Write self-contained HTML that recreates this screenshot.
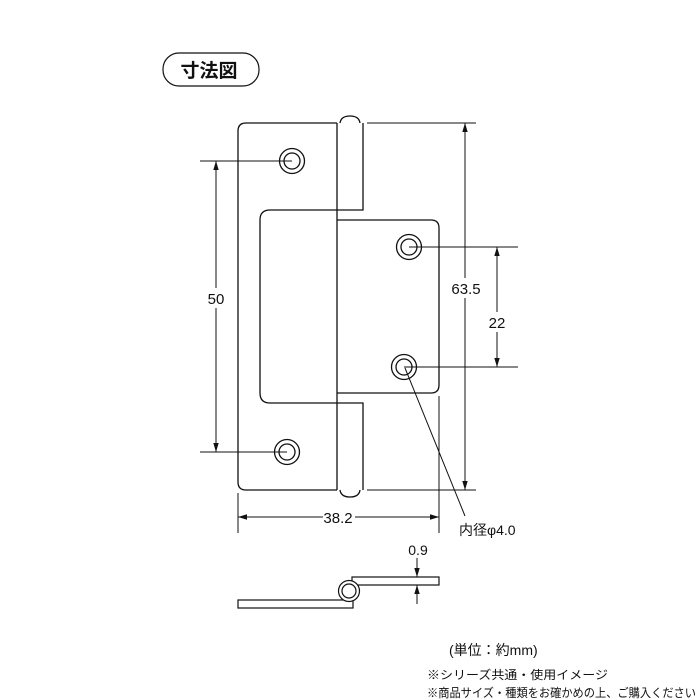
<!DOCTYPE html>
<html><head><meta charset="utf-8"><style>
html,body{margin:0;padding:0;background:#fff;}
svg{display:block;}
text{font-family:"Liberation Sans","Noto Sans CJK JP",sans-serif;fill:#111;}
</style></head><body>
<svg width="700" height="700" viewBox="0 0 700 700" xmlns="http://www.w3.org/2000/svg">
<defs>
<marker id="a" viewBox="0 0 10 10" refX="10" refY="5" markerWidth="9" markerHeight="9" orient="auto-start-reverse" markerUnits="userSpaceOnUse"><path d="M0,2 L10,5 L0,8 z" fill="#111"/></marker>
</defs>
<g fill="none" stroke="#111" stroke-width="1.3">
<rect x="163" y="53" width="96" height="33" rx="16" stroke-width="1.2"/>
<path d="M337,123 H246 Q238,123 238,131 V482 Q238,490 246,490 H337"/>
<path d="M337,210 H270 Q260,210 260,220 V393 Q260,403 270,403 H337"/>
<path d="M337,123 V490"/>
<path d="M363,123 V210 H337 M337,220 H363"/>
<path d="M363,393 H337 M337,403 H363 V490"/>
<path d="M340,123 Q341,116 350,116 Q359,116 360,123"/>
<path d="M340,490 Q341,497 350,497 Q359,497 360,490"/>
<path d="M363,220 H431 Q439,220 439,228 V385 Q439,393 431,393 H363"/>
<circle cx="292" cy="161" r="12.5"/><circle cx="292" cy="161" r="8"/>
<circle cx="287" cy="452" r="12.5"/><circle cx="287" cy="452" r="8"/>
<circle cx="409" cy="247" r="12.5"/><circle cx="409" cy="247" r="8"/>
<circle cx="404" cy="367" r="12.5"/><circle cx="404" cy="367" r="8"/>
</g>
<g fill="none" stroke="#111" stroke-width="1">
<line x1="200" y1="161" x2="292" y2="161"/>
<line x1="200" y1="452" x2="287" y2="452"/>
<line x1="216" y1="161" x2="216" y2="452" marker-start="url(#a)" marker-end="url(#a)"/>
<line x1="367" y1="123" x2="476" y2="123"/>
<line x1="367" y1="490" x2="476" y2="490"/>
<line x1="465" y1="123" x2="465" y2="490" marker-start="url(#a)" marker-end="url(#a)"/>
<line x1="409" y1="247" x2="518" y2="247"/>
<line x1="404" y1="367" x2="518" y2="367"/>
<line x1="497" y1="247" x2="497" y2="367" marker-start="url(#a)" marker-end="url(#a)"/>
<line x1="238" y1="493" x2="238" y2="533"/>
<line x1="439" y1="396" x2="439" y2="533"/>
<line x1="238" y1="517" x2="439" y2="517" marker-start="url(#a)" marker-end="url(#a)"/>
<line x1="405" y1="368" x2="465" y2="516"/>
<line x1="417" y1="558" x2="417" y2="577" marker-end="url(#a)"/>
<line x1="417" y1="604" x2="417" y2="585" marker-end="url(#a)"/>
</g>
<g fill="#fff" stroke="#111" stroke-width="1.2">
<rect x="238" y="600" width="115" height="8"/>
<rect x="352" y="577" width="87" height="8"/>
<circle cx="349" cy="591" r="10.5"/>
<circle cx="349" cy="591" r="7"/>
</g>
<rect x="323" y="509" width="32" height="16" fill="#fff"/>
<rect x="455" y="278" width="22" height="20" fill="#fff"/>
<rect x="486" y="312" width="22" height="20" fill="#fff"/>
<rect x="205" y="288" width="22" height="20" fill="#fff"/>
<text x="209" y="77" font-size="19" font-weight="bold" text-anchor="middle">寸法図</text>
<text x="216" y="304" font-size="15" text-anchor="middle">50</text>
<text x="466" y="294" font-size="15" text-anchor="middle">63.5</text>
<text x="497" y="328" font-size="15" text-anchor="middle">22</text>
<text x="338" y="523" font-size="15" text-anchor="middle">38.2</text>
<text x="459" y="535" font-size="14">内径φ4.0</text>
<text x="418" y="555" font-size="14" text-anchor="middle">0.9</text>
<text x="449" y="655" font-size="14">(単位：約mm)</text>
<text x="427" y="679" font-size="12" textLength="181" lengthAdjust="spacingAndGlyphs">※シリーズ共通・使用イメージ</text>
<text x="427" y="697" font-size="12" textLength="269" lengthAdjust="spacingAndGlyphs">※商品サイズ・種類をお確かめの上、ご購入ください</text>
</svg>
</body></html>
